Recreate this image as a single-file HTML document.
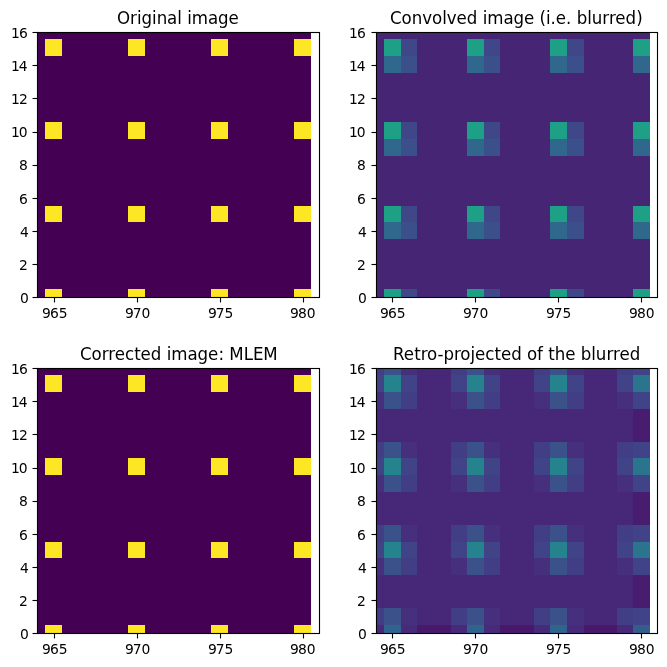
<!DOCTYPE html>
<html><head><meta charset="utf-8"><title>MLEM deconvolution figure</title>
<style>
html,body{margin:0;padding:0;background:#fff;}
body{width:667px;height:667px;overflow:hidden;}
svg{display:block;}
text{font-family:"DejaVu Sans","Liberation Sans",sans-serif;fill:#000;}
.t text{font-size:13.889px;}
.h{font-size:16.667px;}
</style></head><body>
<svg width="667" height="667" viewBox="0 0 667 667">
<rect width="667" height="667" fill="#fff"/>
<g shape-rendering="crispEdges">
<rect x="37" y="32" width="274" height="7" fill="#440154"/>
<rect x="37" y="39" width="8" height="17" fill="#440154"/>
<rect x="45" y="39" width="17" height="17" fill="#fde724"/>
<rect x="62" y="39" width="66" height="17" fill="#440154"/>
<rect x="128" y="39" width="17" height="17" fill="#fde724"/>
<rect x="145" y="39" width="66" height="17" fill="#440154"/>
<rect x="211" y="39" width="17" height="17" fill="#fde724"/>
<rect x="228" y="39" width="66" height="17" fill="#440154"/>
<rect x="294" y="39" width="17" height="17" fill="#fde724"/>
<rect x="37" y="56" width="274" height="66" fill="#440154"/>
<rect x="37" y="122" width="8" height="17" fill="#440154"/>
<rect x="45" y="122" width="17" height="17" fill="#fde724"/>
<rect x="62" y="122" width="66" height="17" fill="#440154"/>
<rect x="128" y="122" width="17" height="17" fill="#fde724"/>
<rect x="145" y="122" width="66" height="17" fill="#440154"/>
<rect x="211" y="122" width="17" height="17" fill="#fde724"/>
<rect x="228" y="122" width="66" height="17" fill="#440154"/>
<rect x="294" y="122" width="17" height="17" fill="#fde724"/>
<rect x="37" y="139" width="274" height="67" fill="#440154"/>
<rect x="37" y="206" width="8" height="16" fill="#440154"/>
<rect x="45" y="206" width="17" height="16" fill="#fde724"/>
<rect x="62" y="206" width="66" height="16" fill="#440154"/>
<rect x="128" y="206" width="17" height="16" fill="#fde724"/>
<rect x="145" y="206" width="66" height="16" fill="#440154"/>
<rect x="211" y="206" width="17" height="16" fill="#fde724"/>
<rect x="228" y="206" width="66" height="16" fill="#440154"/>
<rect x="294" y="206" width="17" height="16" fill="#fde724"/>
<rect x="37" y="222" width="274" height="67" fill="#440154"/>
<rect x="37" y="289" width="8" height="9" fill="#440154"/>
<rect x="45" y="289" width="17" height="9" fill="#fde724"/>
<rect x="62" y="289" width="66" height="9" fill="#440154"/>
<rect x="128" y="289" width="17" height="9" fill="#fde724"/>
<rect x="145" y="289" width="66" height="9" fill="#440154"/>
<rect x="211" y="289" width="17" height="9" fill="#fde724"/>
<rect x="228" y="289" width="66" height="9" fill="#440154"/>
<rect x="294" y="289" width="17" height="9" fill="#fde724"/>
</g>
<g stroke="#000" stroke-width="1.11" fill="none">
<line x1="54.5" y1="297" x2="54.5" y2="302.5"/>
<line x1="137.5" y1="297" x2="137.5" y2="302.5"/>
<line x1="220.5" y1="297" x2="220.5" y2="302.5"/>
<line x1="303.5" y1="297" x2="303.5" y2="302.5"/>
<line x1="32.5" y1="297.5" x2="38" y2="297.5"/>
<line x1="32.5" y1="264.5" x2="38" y2="264.5"/>
<line x1="32.5" y1="231.5" x2="38" y2="231.5"/>
<line x1="32.5" y1="198.5" x2="38" y2="198.5"/>
<line x1="32.5" y1="165.5" x2="38" y2="165.5"/>
<line x1="32.5" y1="132.5" x2="38" y2="132.5"/>
<line x1="32.5" y1="98.5" x2="38" y2="98.5"/>
<line x1="32.5" y1="65.5" x2="38" y2="65.5"/>
<line x1="32.5" y1="32.5" x2="38" y2="32.5"/>
<rect x="37.5" y="32.5" width="282.0" height="265.0" stroke-linejoin="miter"/>
</g>
<g class="t">
<text x="41.92 49.88 58.72" y="317.59">965</text>
<text x="124.93 132.64 141.48" y="317.59">970</text>
<text x="207.95 215.66 224.49" y="317.59">975</text>
<text x="289.96 297.92 306.63" y="317.59">980</text>
<text x="19.92" y="302.74">0</text>
<text x="18.92" y="269.59">2</text>
<text x="19.92" y="236.68">4</text>
<text x="18.92" y="203.53">6</text>
<text x="18.92" y="169.87">8</text>
<text x="10.95 18.67" y="136.72">10</text>
<text x="10.95 18.92" y="103.56">12</text>
<text x="10.95 18.67" y="70.66">14</text>
<text x="10.95 18.92" y="37.50">16</text>
</g>
<text class="h" transform="translate(178.38,23.50) scale(1,1.11)" x="-61.42 -48.44 -41.47 -36.97 -26.41 -21.65 -11.47 -1.14 3.49 8.79 13.40 29.63 39.58 50.03">Original image</text>
<g shape-rendering="crispEdges">
<rect x="376" y="32" width="274" height="7" fill="#472575"/>
<rect x="376" y="39" width="8" height="34" fill="#472575"/>
<rect x="384" y="39" width="17" height="17" fill="#1ea087"/>
<rect x="401" y="39" width="16" height="17" fill="#3f4788"/>
<rect x="417" y="39" width="50" height="34" fill="#472575"/>
<rect x="467" y="39" width="17" height="17" fill="#1ea087"/>
<rect x="484" y="39" width="16" height="17" fill="#3f4788"/>
<rect x="500" y="39" width="50" height="34" fill="#472575"/>
<rect x="550" y="39" width="17" height="17" fill="#1ea087"/>
<rect x="567" y="39" width="17" height="17" fill="#3f4788"/>
<rect x="584" y="39" width="49" height="34" fill="#472575"/>
<rect x="633" y="39" width="17" height="17" fill="#1ea087"/>
<rect x="384" y="56" width="17" height="17" fill="#30688d"/>
<rect x="401" y="56" width="16" height="17" fill="#3b508a"/>
<rect x="467" y="56" width="17" height="17" fill="#30688d"/>
<rect x="484" y="56" width="16" height="17" fill="#3b508a"/>
<rect x="550" y="56" width="17" height="17" fill="#30688d"/>
<rect x="567" y="56" width="17" height="17" fill="#3b508a"/>
<rect x="633" y="56" width="17" height="17" fill="#30688d"/>
<rect x="376" y="73" width="274" height="49" fill="#472575"/>
<rect x="376" y="122" width="8" height="34" fill="#472575"/>
<rect x="384" y="122" width="17" height="17" fill="#1ea087"/>
<rect x="401" y="122" width="16" height="17" fill="#3f4788"/>
<rect x="417" y="122" width="50" height="34" fill="#472575"/>
<rect x="467" y="122" width="17" height="17" fill="#1ea087"/>
<rect x="484" y="122" width="16" height="17" fill="#3f4788"/>
<rect x="500" y="122" width="50" height="34" fill="#472575"/>
<rect x="550" y="122" width="17" height="17" fill="#1ea087"/>
<rect x="567" y="122" width="17" height="17" fill="#3f4788"/>
<rect x="584" y="122" width="49" height="34" fill="#472575"/>
<rect x="633" y="122" width="17" height="17" fill="#1ea087"/>
<rect x="384" y="139" width="17" height="17" fill="#30688d"/>
<rect x="401" y="139" width="16" height="17" fill="#3b508a"/>
<rect x="467" y="139" width="17" height="17" fill="#30688d"/>
<rect x="484" y="139" width="16" height="17" fill="#3b508a"/>
<rect x="550" y="139" width="17" height="17" fill="#30688d"/>
<rect x="567" y="139" width="17" height="17" fill="#3b508a"/>
<rect x="633" y="139" width="17" height="17" fill="#30688d"/>
<rect x="376" y="156" width="274" height="50" fill="#472575"/>
<rect x="376" y="206" width="8" height="33" fill="#472575"/>
<rect x="384" y="206" width="17" height="16" fill="#1ea087"/>
<rect x="401" y="206" width="16" height="16" fill="#3f4788"/>
<rect x="417" y="206" width="50" height="33" fill="#472575"/>
<rect x="467" y="206" width="17" height="16" fill="#1ea087"/>
<rect x="484" y="206" width="16" height="16" fill="#3f4788"/>
<rect x="500" y="206" width="50" height="33" fill="#472575"/>
<rect x="550" y="206" width="17" height="16" fill="#1ea087"/>
<rect x="567" y="206" width="17" height="16" fill="#3f4788"/>
<rect x="584" y="206" width="49" height="33" fill="#472575"/>
<rect x="633" y="206" width="17" height="16" fill="#1ea087"/>
<rect x="384" y="222" width="17" height="17" fill="#30688d"/>
<rect x="401" y="222" width="16" height="17" fill="#3b508a"/>
<rect x="467" y="222" width="17" height="17" fill="#30688d"/>
<rect x="484" y="222" width="16" height="17" fill="#3b508a"/>
<rect x="550" y="222" width="17" height="17" fill="#30688d"/>
<rect x="567" y="222" width="17" height="17" fill="#3b508a"/>
<rect x="633" y="222" width="17" height="17" fill="#30688d"/>
<rect x="376" y="239" width="274" height="50" fill="#472575"/>
<rect x="376" y="289" width="8" height="9" fill="#472575"/>
<rect x="384" y="289" width="17" height="9" fill="#1ea087"/>
<rect x="401" y="289" width="16" height="9" fill="#3f4788"/>
<rect x="417" y="289" width="50" height="9" fill="#472575"/>
<rect x="467" y="289" width="17" height="9" fill="#1ea087"/>
<rect x="484" y="289" width="16" height="9" fill="#3f4788"/>
<rect x="500" y="289" width="50" height="9" fill="#472575"/>
<rect x="550" y="289" width="17" height="9" fill="#1ea087"/>
<rect x="567" y="289" width="17" height="9" fill="#3f4788"/>
<rect x="584" y="289" width="49" height="9" fill="#472575"/>
<rect x="633" y="289" width="17" height="9" fill="#1ea087"/>
</g>
<g stroke="#000" stroke-width="1.11" fill="none">
<line x1="392.5" y1="297" x2="392.5" y2="302.5"/>
<line x1="475.5" y1="297" x2="475.5" y2="302.5"/>
<line x1="558.5" y1="297" x2="558.5" y2="302.5"/>
<line x1="641.5" y1="297" x2="641.5" y2="302.5"/>
<line x1="371.5" y1="297.5" x2="377" y2="297.5"/>
<line x1="371.5" y1="264.5" x2="377" y2="264.5"/>
<line x1="371.5" y1="231.5" x2="377" y2="231.5"/>
<line x1="371.5" y1="198.5" x2="377" y2="198.5"/>
<line x1="371.5" y1="165.5" x2="377" y2="165.5"/>
<line x1="371.5" y1="132.5" x2="377" y2="132.5"/>
<line x1="371.5" y1="98.5" x2="377" y2="98.5"/>
<line x1="371.5" y1="65.5" x2="377" y2="65.5"/>
<line x1="371.5" y1="32.5" x2="377" y2="32.5"/>
<rect x="376.5" y="32.5" width="281.0" height="265.0" stroke-linejoin="miter"/>
</g>
<g class="t">
<text x="379.98 387.94 396.65" y="317.59">965</text>
<text x="462.99 470.70 479.41" y="317.59">970</text>
<text x="545.88 553.71 562.43" y="317.59">975</text>
<text x="628.89 636.98 645.69" y="317.59">980</text>
<text x="357.97" y="302.74">0</text>
<text x="356.97" y="269.59">2</text>
<text x="357.97" y="236.68">4</text>
<text x="356.97" y="203.53">6</text>
<text x="356.97" y="169.87">8</text>
<text x="348.89 356.72" y="136.72">10</text>
<text x="348.89 356.97" y="103.56">12</text>
<text x="348.89 356.72" y="70.66">14</text>
<text x="348.89 356.97" y="37.50">16</text>
</g>
<text class="h" transform="translate(516.56,23.50) scale(1,1.11)" x="-126.64 -115.14 -104.83 -94.41 -84.67 -74.35 -69.86 -60.12 -49.89 -39.25 -33.89 -29.39 -13.16 -3.08 7.37 17.60 22.90 29.41 33.90 39.19 49.44 54.80 60.16 70.61 75.11 85.66 92.33 98.58 108.94 119.64">Convolved image (i.e. blurred)</text>
<g shape-rendering="crispEdges">
<rect x="37" y="368" width="274" height="7" fill="#440154"/>
<rect x="37" y="375" width="8" height="17" fill="#440154"/>
<rect x="45" y="375" width="17" height="17" fill="#fde724"/>
<rect x="62" y="375" width="66" height="17" fill="#440154"/>
<rect x="128" y="375" width="17" height="17" fill="#fde724"/>
<rect x="145" y="375" width="66" height="17" fill="#440154"/>
<rect x="211" y="375" width="17" height="17" fill="#fde724"/>
<rect x="228" y="375" width="66" height="17" fill="#440154"/>
<rect x="294" y="375" width="17" height="17" fill="#fde724"/>
<rect x="37" y="392" width="274" height="66" fill="#440154"/>
<rect x="37" y="458" width="8" height="17" fill="#440154"/>
<rect x="45" y="458" width="17" height="17" fill="#fde724"/>
<rect x="62" y="458" width="66" height="17" fill="#440154"/>
<rect x="128" y="458" width="17" height="17" fill="#fde724"/>
<rect x="145" y="458" width="66" height="17" fill="#440154"/>
<rect x="211" y="458" width="17" height="17" fill="#fde724"/>
<rect x="228" y="458" width="66" height="17" fill="#440154"/>
<rect x="294" y="458" width="17" height="17" fill="#fde724"/>
<rect x="37" y="475" width="274" height="67" fill="#440154"/>
<rect x="37" y="542" width="8" height="16" fill="#440154"/>
<rect x="45" y="542" width="17" height="16" fill="#fde724"/>
<rect x="62" y="542" width="66" height="16" fill="#440154"/>
<rect x="128" y="542" width="17" height="16" fill="#fde724"/>
<rect x="145" y="542" width="66" height="16" fill="#440154"/>
<rect x="211" y="542" width="17" height="16" fill="#fde724"/>
<rect x="228" y="542" width="66" height="16" fill="#440154"/>
<rect x="294" y="542" width="17" height="16" fill="#fde724"/>
<rect x="37" y="558" width="274" height="67" fill="#440154"/>
<rect x="37" y="625" width="8" height="9" fill="#440154"/>
<rect x="45" y="625" width="17" height="9" fill="#fde724"/>
<rect x="62" y="625" width="66" height="9" fill="#440154"/>
<rect x="128" y="625" width="17" height="9" fill="#fde724"/>
<rect x="145" y="625" width="66" height="9" fill="#440154"/>
<rect x="211" y="625" width="17" height="9" fill="#fde724"/>
<rect x="228" y="625" width="66" height="9" fill="#440154"/>
<rect x="294" y="625" width="17" height="9" fill="#fde724"/>
</g>
<g stroke="#000" stroke-width="1.11" fill="none">
<line x1="54.5" y1="633" x2="54.5" y2="638.5"/>
<line x1="137.5" y1="633" x2="137.5" y2="638.5"/>
<line x1="220.5" y1="633" x2="220.5" y2="638.5"/>
<line x1="303.5" y1="633" x2="303.5" y2="638.5"/>
<line x1="32.5" y1="633.5" x2="38" y2="633.5"/>
<line x1="32.5" y1="600.5" x2="38" y2="600.5"/>
<line x1="32.5" y1="567.5" x2="38" y2="567.5"/>
<line x1="32.5" y1="534.5" x2="38" y2="534.5"/>
<line x1="32.5" y1="501.5" x2="38" y2="501.5"/>
<line x1="32.5" y1="468.5" x2="38" y2="468.5"/>
<line x1="32.5" y1="434.5" x2="38" y2="434.5"/>
<line x1="32.5" y1="401.5" x2="38" y2="401.5"/>
<line x1="32.5" y1="368.5" x2="38" y2="368.5"/>
<rect x="37.5" y="368.5" width="282.0" height="265.0" stroke-linejoin="miter"/>
</g>
<g class="t">
<text x="41.92 49.88 58.72" y="653.59">965</text>
<text x="124.93 132.64 141.48" y="653.59">970</text>
<text x="207.95 215.66 224.49" y="653.59">975</text>
<text x="289.96 297.92 306.63" y="653.59">980</text>
<text x="19.92" y="638.74">0</text>
<text x="18.92" y="605.59">2</text>
<text x="19.92" y="572.68">4</text>
<text x="18.92" y="539.53">6</text>
<text x="18.92" y="505.87">8</text>
<text x="10.95 18.67" y="472.72">10</text>
<text x="10.95 18.92" y="439.56">12</text>
<text x="10.95 18.67" y="406.66">14</text>
<text x="10.95 18.92" y="373.50">16</text>
</g>
<text class="h" transform="translate(178.38,359.50) scale(1,1.11)" x="-98.49 -86.98 -76.67 -70.12 -63.76 -53.51 -44.23 -37.96 -27.71 -17.07 -11.72 -7.21 9.12 19.08 29.53 40.03 45.57 50.80 65.30 74.58 84.84">Corrected image: MLEM</text>
<g shape-rendering="crispEdges">
<rect x="376" y="368" width="8" height="7" fill="#423e85"/>
<rect x="384" y="368" width="17" height="7" fill="#3b518a"/>
<rect x="401" y="368" width="16" height="7" fill="#46307d"/>
<rect x="417" y="368" width="34" height="41" fill="#472777"/>
<rect x="451" y="368" width="16" height="7" fill="#423e85"/>
<rect x="467" y="368" width="17" height="7" fill="#3b518a"/>
<rect x="484" y="368" width="16" height="7" fill="#46307d"/>
<rect x="500" y="368" width="34" height="41" fill="#472777"/>
<rect x="534" y="368" width="16" height="7" fill="#423e85"/>
<rect x="550" y="368" width="17" height="7" fill="#3b518a"/>
<rect x="567" y="368" width="17" height="7" fill="#46307d"/>
<rect x="584" y="368" width="33" height="41" fill="#472777"/>
<rect x="617" y="368" width="16" height="7" fill="#423e85"/>
<rect x="633" y="368" width="17" height="7" fill="#404387"/>
<rect x="376" y="375" width="8" height="17" fill="#404487"/>
<rect x="384" y="375" width="17" height="17" fill="#25838d"/>
<rect x="401" y="375" width="16" height="17" fill="#404487"/>
<rect x="451" y="375" width="16" height="17" fill="#404487"/>
<rect x="467" y="375" width="17" height="17" fill="#25838d"/>
<rect x="484" y="375" width="16" height="17" fill="#404487"/>
<rect x="534" y="375" width="16" height="17" fill="#404487"/>
<rect x="550" y="375" width="17" height="17" fill="#25838d"/>
<rect x="567" y="375" width="17" height="17" fill="#404487"/>
<rect x="617" y="375" width="16" height="17" fill="#404487"/>
<rect x="633" y="375" width="17" height="17" fill="#2b748e"/>
<rect x="376" y="392" width="8" height="17" fill="#46307d"/>
<rect x="384" y="392" width="17" height="17" fill="#3b518a"/>
<rect x="401" y="392" width="16" height="17" fill="#423e85"/>
<rect x="451" y="392" width="16" height="17" fill="#46307d"/>
<rect x="467" y="392" width="17" height="17" fill="#3b518a"/>
<rect x="484" y="392" width="16" height="17" fill="#423e85"/>
<rect x="534" y="392" width="16" height="17" fill="#46307d"/>
<rect x="550" y="392" width="17" height="17" fill="#3b518a"/>
<rect x="567" y="392" width="17" height="17" fill="#423e85"/>
<rect x="617" y="392" width="16" height="17" fill="#46307d"/>
<rect x="633" y="392" width="17" height="17" fill="#404387"/>
<rect x="376" y="409" width="257" height="33" fill="#472777"/>
<rect x="633" y="409" width="17" height="33" fill="#481d6f"/>
<rect x="376" y="442" width="8" height="16" fill="#423e85"/>
<rect x="384" y="442" width="17" height="16" fill="#3b518a"/>
<rect x="401" y="442" width="16" height="16" fill="#46307d"/>
<rect x="417" y="442" width="34" height="50" fill="#472777"/>
<rect x="451" y="442" width="16" height="16" fill="#423e85"/>
<rect x="467" y="442" width="17" height="16" fill="#3b518a"/>
<rect x="484" y="442" width="16" height="16" fill="#46307d"/>
<rect x="500" y="442" width="34" height="50" fill="#472777"/>
<rect x="534" y="442" width="16" height="16" fill="#423e85"/>
<rect x="550" y="442" width="17" height="16" fill="#3b518a"/>
<rect x="567" y="442" width="17" height="16" fill="#46307d"/>
<rect x="584" y="442" width="33" height="50" fill="#472777"/>
<rect x="617" y="442" width="16" height="16" fill="#423e85"/>
<rect x="633" y="442" width="17" height="16" fill="#404387"/>
<rect x="376" y="458" width="8" height="17" fill="#404487"/>
<rect x="384" y="458" width="17" height="17" fill="#25838d"/>
<rect x="401" y="458" width="16" height="17" fill="#404487"/>
<rect x="451" y="458" width="16" height="17" fill="#404487"/>
<rect x="467" y="458" width="17" height="17" fill="#25838d"/>
<rect x="484" y="458" width="16" height="17" fill="#404487"/>
<rect x="534" y="458" width="16" height="17" fill="#404487"/>
<rect x="550" y="458" width="17" height="17" fill="#25838d"/>
<rect x="567" y="458" width="17" height="17" fill="#404487"/>
<rect x="617" y="458" width="16" height="17" fill="#404487"/>
<rect x="633" y="458" width="17" height="17" fill="#2b748e"/>
<rect x="376" y="475" width="8" height="17" fill="#46307d"/>
<rect x="384" y="475" width="17" height="17" fill="#3b518a"/>
<rect x="401" y="475" width="16" height="17" fill="#423e85"/>
<rect x="451" y="475" width="16" height="17" fill="#46307d"/>
<rect x="467" y="475" width="17" height="17" fill="#3b518a"/>
<rect x="484" y="475" width="16" height="17" fill="#423e85"/>
<rect x="534" y="475" width="16" height="17" fill="#46307d"/>
<rect x="550" y="475" width="17" height="17" fill="#3b518a"/>
<rect x="567" y="475" width="17" height="17" fill="#423e85"/>
<rect x="617" y="475" width="16" height="17" fill="#46307d"/>
<rect x="633" y="475" width="17" height="17" fill="#404387"/>
<rect x="376" y="492" width="257" height="33" fill="#472777"/>
<rect x="633" y="492" width="17" height="33" fill="#481d6f"/>
<rect x="376" y="525" width="8" height="17" fill="#423e85"/>
<rect x="384" y="525" width="17" height="17" fill="#3b518a"/>
<rect x="401" y="525" width="16" height="17" fill="#46307d"/>
<rect x="417" y="525" width="34" height="50" fill="#472777"/>
<rect x="451" y="525" width="16" height="17" fill="#423e85"/>
<rect x="467" y="525" width="17" height="17" fill="#3b518a"/>
<rect x="484" y="525" width="16" height="17" fill="#46307d"/>
<rect x="500" y="525" width="34" height="50" fill="#472777"/>
<rect x="534" y="525" width="16" height="17" fill="#423e85"/>
<rect x="550" y="525" width="17" height="17" fill="#3b518a"/>
<rect x="567" y="525" width="17" height="17" fill="#46307d"/>
<rect x="584" y="525" width="33" height="50" fill="#472777"/>
<rect x="617" y="525" width="16" height="17" fill="#423e85"/>
<rect x="633" y="525" width="17" height="17" fill="#404387"/>
<rect x="376" y="542" width="8" height="16" fill="#404487"/>
<rect x="384" y="542" width="17" height="16" fill="#25838d"/>
<rect x="401" y="542" width="16" height="16" fill="#404487"/>
<rect x="451" y="542" width="16" height="16" fill="#404487"/>
<rect x="467" y="542" width="17" height="16" fill="#25838d"/>
<rect x="484" y="542" width="16" height="16" fill="#404487"/>
<rect x="534" y="542" width="16" height="16" fill="#404487"/>
<rect x="550" y="542" width="17" height="16" fill="#25838d"/>
<rect x="567" y="542" width="17" height="16" fill="#404487"/>
<rect x="617" y="542" width="16" height="16" fill="#404487"/>
<rect x="633" y="542" width="17" height="16" fill="#2b748e"/>
<rect x="376" y="558" width="8" height="17" fill="#46307d"/>
<rect x="384" y="558" width="17" height="17" fill="#3b518a"/>
<rect x="401" y="558" width="16" height="17" fill="#423e85"/>
<rect x="451" y="558" width="16" height="17" fill="#46307d"/>
<rect x="467" y="558" width="17" height="17" fill="#3b518a"/>
<rect x="484" y="558" width="16" height="17" fill="#423e85"/>
<rect x="534" y="558" width="16" height="17" fill="#46307d"/>
<rect x="550" y="558" width="17" height="17" fill="#3b518a"/>
<rect x="567" y="558" width="17" height="17" fill="#423e85"/>
<rect x="617" y="558" width="16" height="17" fill="#46307d"/>
<rect x="633" y="558" width="17" height="17" fill="#404387"/>
<rect x="376" y="575" width="257" height="33" fill="#472777"/>
<rect x="633" y="575" width="17" height="33" fill="#481d6f"/>
<rect x="376" y="608" width="8" height="17" fill="#423e85"/>
<rect x="384" y="608" width="17" height="17" fill="#3b518a"/>
<rect x="401" y="608" width="16" height="17" fill="#46307d"/>
<rect x="417" y="608" width="34" height="17" fill="#472777"/>
<rect x="451" y="608" width="16" height="17" fill="#423e85"/>
<rect x="467" y="608" width="17" height="17" fill="#3b518a"/>
<rect x="484" y="608" width="16" height="17" fill="#46307d"/>
<rect x="500" y="608" width="34" height="17" fill="#472777"/>
<rect x="534" y="608" width="16" height="17" fill="#423e85"/>
<rect x="550" y="608" width="17" height="17" fill="#3b518a"/>
<rect x="567" y="608" width="17" height="17" fill="#46307d"/>
<rect x="584" y="608" width="33" height="17" fill="#472777"/>
<rect x="617" y="608" width="16" height="17" fill="#423e85"/>
<rect x="633" y="608" width="17" height="17" fill="#404387"/>
<rect x="376" y="625" width="8" height="9" fill="#472b7a"/>
<rect x="384" y="625" width="17" height="9" fill="#31648d"/>
<rect x="401" y="625" width="16" height="9" fill="#472b7a"/>
<rect x="417" y="625" width="34" height="9" fill="#48196b"/>
<rect x="451" y="625" width="16" height="9" fill="#472b7a"/>
<rect x="467" y="625" width="17" height="9" fill="#31648d"/>
<rect x="484" y="625" width="16" height="9" fill="#472b7a"/>
<rect x="500" y="625" width="34" height="9" fill="#48196b"/>
<rect x="534" y="625" width="16" height="9" fill="#472b7a"/>
<rect x="550" y="625" width="17" height="9" fill="#31648d"/>
<rect x="567" y="625" width="17" height="9" fill="#472b7a"/>
<rect x="584" y="625" width="33" height="9" fill="#48196b"/>
<rect x="617" y="625" width="16" height="9" fill="#472b7a"/>
<rect x="633" y="625" width="17" height="9" fill="#355d8c"/>
</g>
<g stroke="#000" stroke-width="1.11" fill="none">
<line x1="392.5" y1="633" x2="392.5" y2="638.5"/>
<line x1="475.5" y1="633" x2="475.5" y2="638.5"/>
<line x1="558.5" y1="633" x2="558.5" y2="638.5"/>
<line x1="641.5" y1="633" x2="641.5" y2="638.5"/>
<line x1="371.5" y1="633.5" x2="377" y2="633.5"/>
<line x1="371.5" y1="600.5" x2="377" y2="600.5"/>
<line x1="371.5" y1="567.5" x2="377" y2="567.5"/>
<line x1="371.5" y1="534.5" x2="377" y2="534.5"/>
<line x1="371.5" y1="501.5" x2="377" y2="501.5"/>
<line x1="371.5" y1="468.5" x2="377" y2="468.5"/>
<line x1="371.5" y1="434.5" x2="377" y2="434.5"/>
<line x1="371.5" y1="401.5" x2="377" y2="401.5"/>
<line x1="371.5" y1="368.5" x2="377" y2="368.5"/>
<rect x="376.5" y="368.5" width="281.0" height="265.0" stroke-linejoin="miter"/>
</g>
<g class="t">
<text x="379.98 387.94 396.65" y="653.59">965</text>
<text x="462.99 470.70 479.41" y="653.59">970</text>
<text x="545.88 553.71 562.43" y="653.59">975</text>
<text x="628.89 636.98 645.69" y="653.59">980</text>
<text x="357.97" y="638.74">0</text>
<text x="356.97" y="605.59">2</text>
<text x="357.97" y="572.68">4</text>
<text x="356.97" y="539.53">6</text>
<text x="356.97" y="505.87">8</text>
<text x="348.89 356.72" y="472.72">10</text>
<text x="348.89 356.97" y="439.56">12</text>
<text x="348.89 356.72" y="406.66">14</text>
<text x="348.89 356.97" y="373.50">16</text>
</g>
<text class="h" transform="translate(516.56,359.50) scale(1,1.11)" x="-123.66 -112.85 -102.35 -95.82 -89.46 -79.09 -73.08 -62.63 -56.28 -46.09 -41.60 -31.35 -22.07 -15.66 -5.41 5.15 10.45 20.39 26.32 31.67 38.08 48.64 58.87 64.17 74.62 79.12 89.93 96.36 102.84 113.09">Retro-projected of the blurred</text>
</svg>
</body></html>
